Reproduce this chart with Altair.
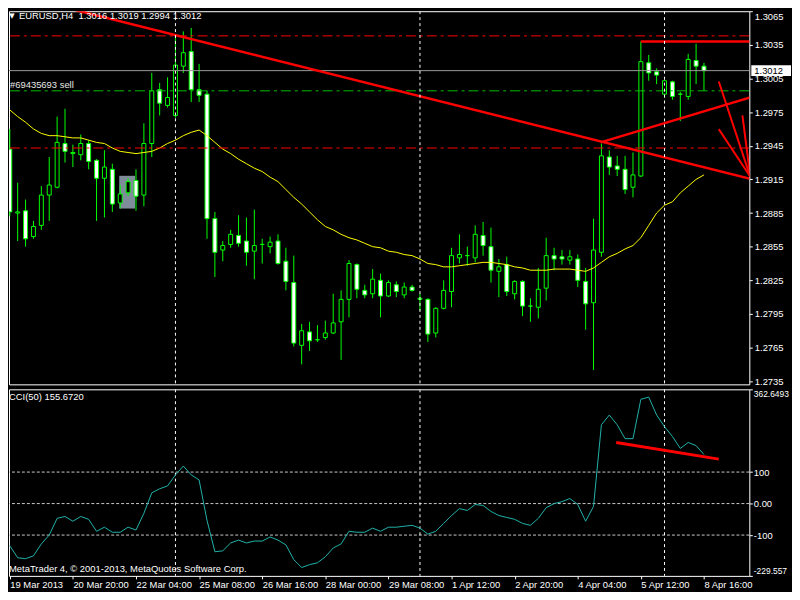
import altair as alt
import pandas as pd

FONT = "Liberation Sans"
FS = 9.5

# ---------------- data ----------------
opens = [1.2942, 1.2885, 1.2887, 1.2864, 1.2874, 1.2901, 1.2908, 1.2947, 1.2938, 1.2937,
         1.2947, 1.2932, 1.2916, 1.2924, 1.2894, 1.2903, 1.2914, 1.2901, 1.2947, 1.2995,
         1.2981, 1.2972, 1.3016, 1.3029, 1.2995, 1.2991, 1.2880, 1.2852, 1.2857, 1.2865,
         1.2860, 1.2851, 1.2857, 1.2855, 1.2860, 1.2842, 1.2823, 1.2767, 1.2779, 1.2772,
         1.2774, 1.2778, 1.2788, 1.2808, 1.2839, 1.2816, 1.2813, 1.2825, 1.2811, 1.2821,
         1.2812, 1.2819, 1.2808, 1.2808, 1.2778, 1.2800, 1.2815, 1.2845, 1.2847, 1.2845,
         1.2865, 1.2855, 1.2833, 1.2839, 1.2813, 1.2824, 1.2802, 1.2801, 1.2818, 1.2847,
         1.2846, 1.2843, 1.2844, 1.2824, 1.2805, 1.2850, 1.2935, 1.2927, 1.2924, 1.2908,
         1.2918, 1.3019, 1.3011, 1.2991, 1.3002, 1.2991, 1.2989, 1.3021, 1.3016]
highs = [1.2960, 1.2912, 1.2897, 1.2878, 1.2909, 1.2935, 1.2971, 1.2978, 1.2946, 1.2955,
         1.2950, 1.2933, 1.2941, 1.2929, 1.2910, 1.2916, 1.2924, 1.2965, 1.3010, 1.3001,
         1.3006, 1.3044, 1.3047, 1.3050, 1.3018, 1.2994, 1.2886, 1.2860, 1.2870, 1.2883,
         1.2881, 1.2888, 1.2862, 1.2864, 1.2866, 1.2854, 1.2847, 1.2786, 1.2788, 1.2785,
         1.2789, 1.2813, 1.2816, 1.2843, 1.2840, 1.2821, 1.2835, 1.2831, 1.2825, 1.2824,
         1.2823, 1.2821, 1.2813, 1.2809, 1.2801, 1.2825, 1.2854, 1.2866, 1.2855, 1.2874,
         1.2877, 1.2872, 1.2844, 1.2846, 1.2825, 1.2825, 1.2809, 1.2836, 1.2863, 1.2854,
         1.2852, 1.2852, 1.2848, 1.2836, 1.2880, 1.2947, 1.2941, 1.2936, 1.2936, 1.2939,
         1.3038, 1.3026, 1.3014, 1.3004, 1.3003, 1.2993, 1.3027, 1.3036, 1.3019]
lows = [1.2882, 1.2860, 1.2855, 1.2862, 1.2870, 1.2878, 1.2907, 1.2930, 1.2926, 1.2932,
        1.2924, 1.2878, 1.2881, 1.2886, 1.2889, 1.2900, 1.2887, 1.2891, 1.2935, 1.2972,
        1.2979, 1.2970, 1.3010, 1.2984, 1.2984, 1.2862, 1.2828, 1.2842, 1.2854, 1.2855,
        1.2838, 1.2826, 1.2840, 1.2849, 1.2839, 1.2816, 1.2766, 1.2750, 1.2762, 1.2770,
        1.2772, 1.2777, 1.2754, 1.2792, 1.2809, 1.2809, 1.2809, 1.2792, 1.2810, 1.2810,
        1.2809, 1.2815, 1.2798, 1.2770, 1.2774, 1.2799, 1.2801, 1.2840, 1.2838, 1.2841,
        1.2847, 1.2823, 1.2810, 1.2811, 1.2808, 1.2793, 1.2788, 1.2791, 1.2807, 1.2834,
        1.2839, 1.2839, 1.2819, 1.2781, 1.2745, 1.2846, 1.2919, 1.2918, 1.2902, 1.2899,
        1.2917, 1.3003, 1.3000, 1.2988, 1.2986, 1.2967, 1.2986, 1.3000, 1.2994]
closes = [1.2886, 1.2886, 1.2862, 1.2873, 1.2901, 1.2910, 1.2948, 1.2940, 1.2939, 1.2947,
          1.2931, 1.2916, 1.2926, 1.2893, 1.2902, 1.2913, 1.2900, 1.2947, 1.2994, 1.2983,
          1.2988, 1.3017, 1.3028, 1.2995, 1.2990, 1.2880, 1.2850, 1.2856, 1.2866, 1.2858,
          1.2850, 1.2856, 1.2857, 1.2859, 1.2840, 1.2824, 1.2769, 1.2780, 1.2771, 1.2772,
          1.2778, 1.2787, 1.2808, 1.2840, 1.2817, 1.2812, 1.2826, 1.2811, 1.2823, 1.2815,
          1.2819, 1.2816, 1.2809, 1.2777, 1.2800, 1.2816, 1.2847, 1.2848, 1.2847, 1.2866,
          1.2856, 1.2834, 1.2837, 1.2815, 1.2824, 1.2802, 1.2802, 1.2817, 1.2847, 1.2844,
          1.2844, 1.2846, 1.2825, 1.2804, 1.2852, 1.2936, 1.2926, 1.2924, 1.2906, 1.2919,
          1.3020, 1.3010, 1.3008, 1.3003, 1.2989, 1.2991, 1.3022, 1.3016, 1.3012]
ma = [1.2977, 1.2971, 1.2966, 1.2960, 1.2956, 1.2954, 1.2954, 1.2953, 1.2952, 1.2952,
      1.2950, 1.2948, 1.2947, 1.2943, 1.2940, 1.2939, 1.2938, 1.2939, 1.2940, 1.2943,
      1.2947, 1.2950, 1.2954, 1.2957, 1.2959, 1.2954, 1.2948, 1.2942, 1.2938, 1.2933,
      1.2929, 1.2925, 1.2922, 1.2917, 1.2913, 1.2906, 1.2899, 1.2893, 1.2886, 1.2879,
      1.2873, 1.2870, 1.2866, 1.2863, 1.2861, 1.2858, 1.2855, 1.2854, 1.2851, 1.2850,
      1.2848, 1.2847, 1.2844, 1.2840, 1.2839, 1.2837, 1.2837, 1.2838, 1.2839, 1.2840,
      1.2841, 1.2841, 1.2840, 1.2839, 1.2837, 1.2836, 1.2834, 1.2834, 1.2834, 1.2835,
      1.2835, 1.2835, 1.2834, 1.2833, 1.2836, 1.2841, 1.2846, 1.2849, 1.2853, 1.2856,
      1.2863, 1.2874, 1.2885, 1.2892, 1.2895, 1.2903, 1.2909, 1.2915, 1.2919]
cci = [-134, -172, -175, -166, -128, -100, -47, -41, -56, -41,
       -50, -88, -75, -91, -91, -75, -84, -31, 34, 47,
       56, 91, 119, 91, 75, -53, -153, -150, -125, -116,
       -125, -119, -119, -106, -116, -131, -178, -203, -194, -188,
       -169, -141, -128, -88, -91, -91, -78, -88, -75, -75,
       -72, -69, -78, -97, -88, -63, -38, -16, -22, -3,
       -6, -25, -38, -44, -50, -63, -69, -47, -13, 0,
       6, 16, -3, -56, -9, 250, 281, 250, 206, 206,
       331, 338, 281, 244, 213, 175, 194, 184, 155.672]

price_ticks = [1.2735, 1.2765, 1.2795, 1.2825, 1.2855, 1.2885, 1.2915, 1.2945,
               1.2975, 1.3005, 1.3035, 1.3065]
cci_ticks = [-229.557, -100, 0, 100, 362.6493]
cci_tick_labels = ["-229.557", "-100", "0.00", "100", "362.6493"]
time_tick_idx = [0, 8, 16, 24, 32, 40, 48, 56, 64, 72, 80, 88]
time_labels = ["19 Mar 2013", "20 Mar 20:00", "22 Mar 04:00", "25 Mar 08:00",
               "26 Mar 16:00", "28 Mar 00:00", "29 Mar 08:00", "1 Apr 12:00",
               "2 Apr 20:00", "4 Apr 04:00", "5 Apr 12:00", "8 Apr 16:00"]

# chart objects (in bar index / price units)
red_dashdot_levels = [1.3043, 1.2943]
green_dashdot_levels = [1.2994]
separator_bars = [21, 52, 83]
seg_x1 = [6.375, 74.9, 93.875, 93.875, 93.875, 80.0]
seg_p1 = [1.30694, 1.2948, 1.29173, 1.29173, 1.29173, 1.3038]
seg_x2 = [94.75, 94.75, 89.875, 89.875, 92.875, 94.75]
seg_p2 = [1.2914, 1.2990, 1.30023, 1.29598, 1.29722, 1.3038]
seg_w = [2.5, 2.5, 2.0, 2.0, 2.0, 2.5]
box_x = [13.875, 15.875]
box_p = [1.29182, 1.28890]
bid_tag_half = 0.00047   # half height of the white price tag, in price units
cci_levels = [100, 0, -100]
cci_seg_x = [76.875, 89.875]
cci_seg_v = [194, 141]

symbol = "EURUSD,H4"
order_label = "#69435693 sell"
copyright_text = "MetaTrader 4, \u00a9 2001-2013, MetaQuotes Software Corp."

# ---------------- frames ----------------
idx = list(range(len(opens)))
candles = pd.DataFrame(dict(i=idx, open=opens, high=highs, low=lows, close=closes,
                            ma=ma, cci=cci))
candles["body"] = ["#ffffff" if c < o else "#000000" for o, c in zip(opens, closes)]

MAIN_H = 376
CCI_H = 188
W = 746

xs = alt.Scale(domain=[-0.1, 93.75], nice=False, zero=False, padding=0)
ps = alt.Scale(domain=[1.27322, 1.3065], nice=False, zero=False, padding=0)
cs = alt.Scale(domain=[cci_ticks[0], cci_ticks[-1]], nice=False, zero=False, padding=0)

price_axis = alt.Axis(orient="right", values=price_ticks, format=".4f", title=None,
                      tickSize=3, tickColor="#ffffff", labelColor="#ffffff",
                      labelFont=FONT, labelFontSize=FS, labelPadding=2, domain=False,
                      grid=False, labelFlush=True, labelOverlap=False)

cexpr = ("datum.value < -150 ? '%s' : datum.value < -50 ? '%s' : datum.value < 50 ? '%s' : "
         "datum.value < 200 ? '%s' : '%s'") % tuple(cci_tick_labels)
cci_axis = alt.Axis(orient="right", values=cci_ticks, labelExpr=cexpr, title=None,
                    tickSize=3, tickColor="#ffffff", labelColor="#ffffff",
                    labelFont=FONT,
                    labelFontSize={"condition": {"test": "abs(datum.value) > 200", "value": 8.5},
                                   "value": FS},
                    labelPadding=1, domain=False,
                    grid=False, labelFlush=True, labelOverlap=False)

texpr = "[" + ",".join("'%s'" % t for t in time_labels) + "][round(datum.value/8)]"
time_axis = alt.Axis(orient="bottom", values=time_tick_idx, labelExpr=texpr, title=None,
                     tickSize=3, tickColor="#ffffff", labelColor="#ffffff",
                     labelFont=FONT, labelFontSize=FS, labelPadding=1, labelAlign="left",
                     domain=False, grid=False, labelFlush=False, labelOverlap=False,
                     labelBound=False)


def MX(f):
    return alt.X(f, type="quantitative", scale=xs, axis=None)


def MY(f):
    return alt.Y(f, type="quantitative", scale=ps, axis=price_axis)


def CX(f):
    return alt.X(f, type="quantitative", scale=xs, axis=time_axis)


def CY(f):
    return alt.Y(f, type="quantitative", scale=cs, axis=cci_axis)


# ---------------- main price panel ----------------
box = alt.Chart(pd.DataFrame({"x1": [box_x[0]], "x2": [box_x[1]],
                              "p1": [box_p[0]], "p2": [box_p[1]]})).mark_rect(
    color="#7f8c99").encode(x=MX("x1"), x2="x2", y=MY("p1"), y2="p2")

wicks = alt.Chart(candles).mark_rule(color="#00ff00", strokeWidth=1, clip=True).encode(
    x=MX("i"), y=MY("low"), y2="high")
bodies = alt.Chart(candles).mark_bar(size=4, stroke="#00ff00", strokeWidth=1, clip=True).encode(
    x=MX("i"), y=MY("open"), y2="close", fill=alt.Fill("body:N", scale=None))
ma_line = alt.Chart(candles).mark_line(color="#ffff00", strokeWidth=1, clip=True).encode(
    x=MX("i"), y=MY("ma"))

red_h = alt.Chart(pd.DataFrame({"p": red_dashdot_levels})).mark_rule(
    color="#ff0000", strokeWidth=1, strokeDash=[10, 4, 3, 4], clip=True).encode(y=MY("p"))
green_h = alt.Chart(pd.DataFrame({"p": green_dashdot_levels})).mark_rule(
    color="#00c000", strokeWidth=1, strokeDash=[10, 4, 3, 4], clip=True).encode(y=MY("p"))
bid_h = alt.Chart(pd.DataFrame({"p": [closes[-1]]})).mark_rule(
    color="#9a9a9a", strokeWidth=1, clip=True).encode(y=MY("p"))

segs = alt.Chart(pd.DataFrame({"x1": seg_x1, "p1": seg_p1, "x2": seg_x2, "p2": seg_p2,
                               "w": seg_w})).mark_rule(
    color="#ff0000", clip=True, strokeCap="butt").encode(
    x=MX("x1"), x2="x2", y=MY("p1"), y2="p2",
    strokeWidth=alt.StrokeWidth("w:Q", scale=None))

vlines_main = alt.Chart(pd.DataFrame({"i": separator_bars})).mark_rule(
    color="#ffffff", strokeWidth=1, strokeDash=[3, 3], clip=True).encode(x=MX("i"))

bid_box = alt.Chart(pd.DataFrame({"p1": [closes[-1] + bid_tag_half],
                                  "p2": [closes[-1] - bid_tag_half]})).mark_rect(
    color="#ffffff", clip=False).encode(
    x=alt.value(W + 2), x2=alt.value(788), y=MY("p1"), y2="p2")
bid_text = alt.Chart(pd.DataFrame({"p": [closes[-1]], "t": ["%.4f" % closes[-1]]})).mark_text(
    color="#000000", font=FONT, fontSize=FS, align="left", baseline="middle", clip=False).encode(
    x=alt.value(W + 5), y=MY("p"), text="t:N")

header = "%s \u00a0%.4f %.4f %.4f %.4f" % (symbol, opens[-1], highs[-1], lows[-1], closes[-1])
tri = alt.Chart(pd.DataFrame({"t": ["\u25bc"]})).mark_text(
    color="#ffffff", font="DejaVu Sans", fontSize=7, align="center", baseline="top").encode(
    x=alt.value(3), y=alt.value(1), text="t:N")
head_text = alt.Chart(pd.DataFrame({"t": [header]})).mark_text(
    color="#ffffff", font=FONT, fontSize=FS, align="left", baseline="top").encode(
    x=alt.value(10), y=alt.value(0), text="t:N")
order_text = alt.Chart(pd.DataFrame({"t": [order_label]})).mark_text(
    color="#e8e8e8", font=FONT, fontSize=FS, align="left", baseline="middle").encode(
    x=alt.value(1), y=alt.value(74), text="t:N")

main = alt.layer(box, wicks, bodies, ma_line, red_h, green_h, bid_h, segs, vlines_main,
                 bid_box, bid_text, tri, head_text, order_text).properties(width=W, height=MAIN_H)

# ---------------- CCI panel ----------------
cci_lv = alt.Chart(pd.DataFrame({"v": cci_levels})).mark_rule(
    color="#c8c8c8", strokeWidth=1, strokeDash=[3, 2], clip=True).encode(y=CY("v"))
vlines_cci = alt.Chart(pd.DataFrame({"i": separator_bars})).mark_rule(
    color="#ffffff", strokeWidth=1, strokeDash=[3, 3], clip=True).encode(x=CX("i"))
cci_line = alt.Chart(candles).mark_line(color="#20b2aa", strokeWidth=1, clip=True).encode(
    x=CX("i"), y=CY("cci"))
cci_seg = alt.Chart(pd.DataFrame({"x1": [cci_seg_x[0]], "x2": [cci_seg_x[1]],
                                  "v1": [cci_seg_v[0]], "v2": [cci_seg_v[1]]})).mark_rule(
    color="#ff0000", strokeWidth=3, strokeCap="butt", clip=True).encode(
    x=CX("x1"), x2="x2", y=CY("v1"), y2="v2")
cci_title = alt.Chart(pd.DataFrame({"t": ["CCI(50) %.4f" % cci[-1]]})).mark_text(
    color="#ffffff", font=FONT, fontSize=FS, align="left", baseline="middle").encode(
    x=alt.value(0), y=alt.value(8), text="t:N")
copy_text = alt.Chart(pd.DataFrame({"t": [copyright_text]})).mark_text(
    color="#ffffff", font=FONT, fontSize=FS, align="left", baseline="middle").encode(
    x=alt.value(0), y=alt.value(CCI_H - 7), text="t:N")

cci_panel = alt.layer(cci_lv, vlines_cci, cci_line, cci_seg, cci_title, copy_text).properties(
    width=W, height=CCI_H)

chart = alt.vconcat(main, cci_panel, spacing=2).properties(
    padding={"left": 0, "top": 0, "right": 0, "bottom": 0},
    background="#000000").configure_view(
    stroke="#ffffff", strokeWidth=1, fill="#000000").configure_axis(grid=False)

chart.save("out.html", embed_options={"renderer": "svg", "actions": False})
